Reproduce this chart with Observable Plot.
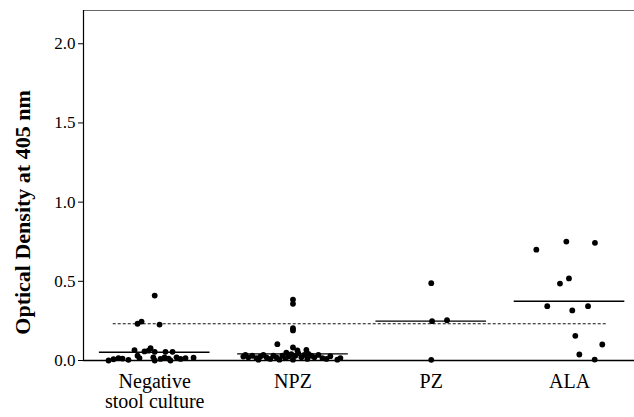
<!DOCTYPE html>
<html>
<head>
<meta charset="utf-8">
<script src="https://cdn.jsdelivr.net/npm/d3@7"></script>
<script src="https://cdn.jsdelivr.net/npm/@observablehq/plot@0.6"></script>
<style>
  html, body { margin: 0; padding: 0; background: #fff; }
  #chart svg { display: block; }
  #chart svg text { font-family: 'Liberation Serif', 'Times New Roman', serif; }
</style>
</head>
<body>
<div id="chart"></div>
<script>
// Categories (x axis)
const categories = ["Negative\nstool culture", "NPZ", "PZ", "ALA"];

// Optical density values per group, with horizontal jitter (in category units)
const negValues = [0.41, 0.232, 0.246, 0.227, 0.0, 0.008, 0.015, 0.012, 0.004, 0.065, 0.03, 0.015, 0.057, 0.078, 0.055, 0.02, 0.0, 0.055, 0.055, 0.02, 0.012, 0.02, 0.01, 0.015, 0.018, 0.062, 0.0, 0.01];
const negJitter = [0.0, -0.124, -0.095, 0.035, -0.334, -0.298, -0.262, -0.233, -0.19, -0.146, -0.124, -0.11, -0.074, -0.03, 0.0, -0.01, 0.0, 0.078, 0.129, 0.071, 0.1, 0.158, 0.187, 0.223, 0.281, -0.045, 0.114, 0.042];

const npzValues = [0.385, 0.358, 0.204, 0.19, 0.103, 0.082, 0.063, 0.067, 0.042, 0.005, 0.027, 0.025, 0.02, 0.03, 0.015, 0.025, 0.035, 0.02, 0.01, 0.03, 0.02, 0.005, 0.03, 0.015, 0.025, 0.04, 0.005, 0.03, 0.045, 0.02, 0.035, 0.01, 0.03, 0.02, 0.035, 0.015, 0.01, 0.035, 0.005, 0.05, 0.015];
const npzJitter = [0.0, 0.0, 0.0, 0.0, -0.113, 0.0, 0.032, 0.097, 0.111, 0.321, 0.27, -0.359, -0.323, -0.294, -0.265, -0.236, -0.214, -0.192, -0.164, -0.142, -0.12, -0.098, -0.077, -0.055, -0.033, -0.012, 0.0, 0.017, 0.039, 0.061, 0.082, 0.104, 0.133, 0.155, 0.184, 0.213, 0.242, -0.344, -0.25, -0.048, 0.343];

const pzValues = [0.488, 0.248, 0.254, 0.004];
const pzJitter = [0.0, 0.006, 0.114, 0.0];

const alaValues = [0.70, 0.751, 0.743, 0.518, 0.486, 0.343, 0.316, 0.343, 0.156, 0.101, 0.038, 0.006];
const alaJitter = [-0.24, -0.023, 0.184, -0.004, -0.069, -0.161, 0.02, 0.134, 0.042, 0.237, 0.071, 0.182];

// Group means (solid lines) and cut-off (dotted line)
const groupMeans = [0.052, 0.042, 0.248, 0.374];
const meanHalfWidth = 0.4;
const cutoff = 0.232;
const cutoffSpan = [0.70, 4.28];

// Y axis ticks
const yTicks = [0, 0.5, 1.0, 1.5, 2.0];
const yLabel = "Optical Density at 405 nm";

// Build tables
const groups = [
  [negValues, negJitter],
  [npzValues, npzJitter],
  [pzValues, pzJitter],
  [alaValues, alaJitter]
];
const points = groups.flatMap(([vals, jit], i) =>
  vals.map((v, j) => ({ x: i + 1 + jit[j], y: v }))
);
const means = groupMeans.map((m, i) => ({ x1: i + 1 - meanHalfWidth, x2: i + 1 + meanHalfWidth, y: m }));
const labels = categories.map((c, i) => ({ x: i + 1, label: c }));
const fmt = d3.format(".1f");

const xDomain = [0.485, 4.47];
const yDomain = [0, 2.21];
const serif = "'Liberation Serif', 'Times New Roman', serif";

const chart = Plot.plot({
  width: 634,
  height: 417,
  marginLeft: 83,
  marginRight: 0,
  marginTop: 10,
  marginBottom: 57,
  style: { fontFamily: serif, background: "#fff", color: "#000" },
  x: { domain: xDomain, axis: null },
  y: { domain: yDomain, axis: null },
  marks: [
    // frame: top (light), left, bottom
    Plot.ruleY([yDomain[1]], { stroke: "#666", strokeWidth: 1 }),
    Plot.ruleX([xDomain[0]], { stroke: "#000", strokeWidth: 1.2 }),
    // y ticks (marks only) and tick labels
    Plot.axisY({ ticks: yTicks, tickFormat: () => "", tickSize: 5, label: null }),
    Plot.text(yTicks, { y: (d) => d, text: (d) => fmt(d), frameAnchor: "left", textAnchor: "end", dx: -8, fontSize: 17, fontFamily: serif, fill: "#000" }),
    // cut-off dotted line
    Plot.ruleY([cutoff], { x1: cutoffSpan[0], x2: cutoffSpan[1], stroke: "#111", strokeWidth: 1, strokeDasharray: "3,2" }),
    // mean lines
    Plot.ruleY(means, { x1: "x1", x2: "x2", y: "y", stroke: "#000", strokeWidth: 1.3 }),
    // dots
    Plot.dot(points, { x: "x", y: "y", r: 2.9, fill: "#000", stroke: "none" }),
    Plot.ruleY([0], { stroke: "#000", strokeWidth: 1.3 }),
    // category labels
    Plot.text(labels, { x: "x", y: () => 0, text: "label", lineAnchor: "top", dy: 13, fontSize: 20, lineHeight: 1.0, fontFamily: serif, fill: "#000" }),
    // y axis label
    Plot.text([yLabel], { frameAnchor: "left", textAnchor: "middle", rotate: -90, dx: -61, dy: 27, fontSize: 22, fontWeight: "bold", fontFamily: serif, fill: "#000" })
  ]
});
document.getElementById("chart").appendChild(chart);
</script>
</body>
</html>
